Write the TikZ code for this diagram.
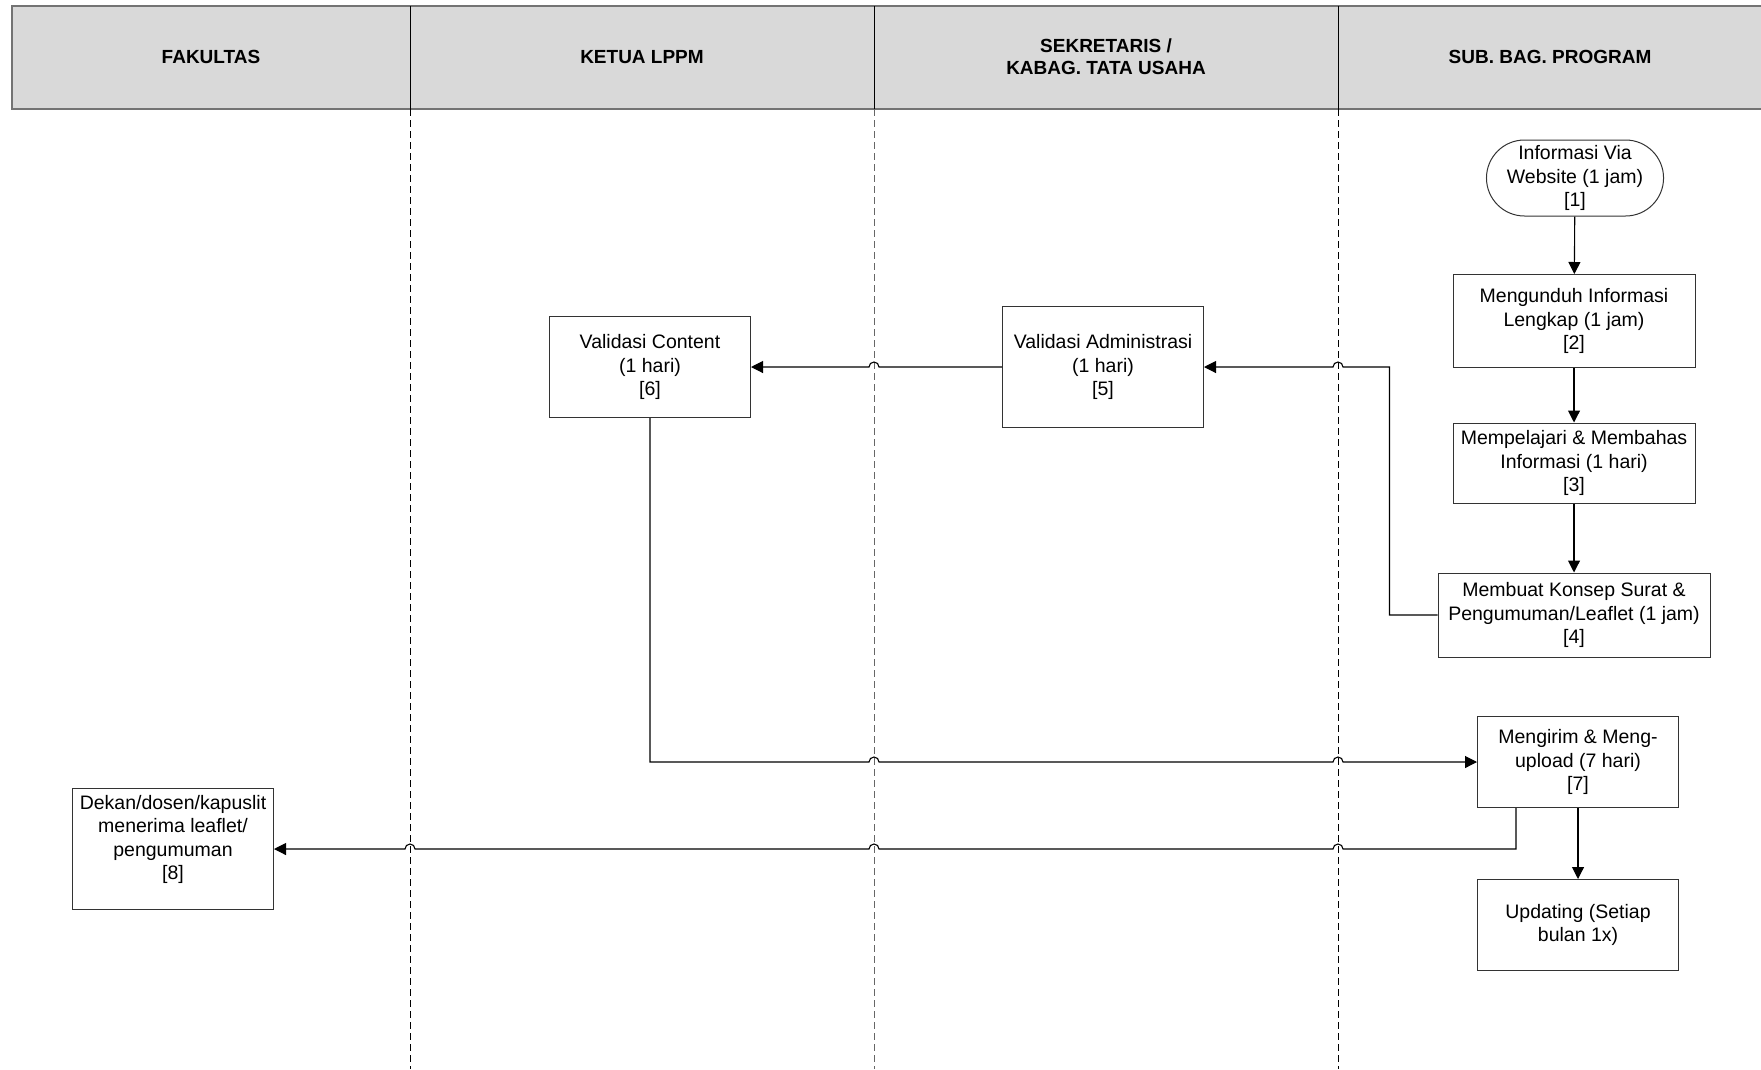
\documentclass[tikz,border=0pt]{standalone}
\usepackage{fontspec}
\setmainfont{Liberation Sans}
\usetikzlibrary{arrows.meta,shapes.misc,calc}

\begin{document}
\begin{tikzpicture}[x=1pt,y=-1pt,
		box/.style={draw=black!80,line width=1pt,align=center,inner sep=2pt,font=\fontsize{19.5}{23.5}\selectfont},
		head/.style={align=center,font=\fontsize{19}{22}\selectfont\bfseries},
		flow/.style={line width=1.1pt,-{Triangle[length=12pt,width=12pt]}},
		lane/.style={line width=0.9pt,dash pattern=on 7pt off 4pt}]
	\useasboundingbox (0,0) rectangle (1761,1069);
	% header band
	\fill[gray!30] (12,6) rectangle (1761,109);
	\draw[black!55,line width=2.5pt] (1761,6) -- (12,6) -- (12,109) -- (1761,109);
	\foreach \x/\c [count=\i] in {410/black,874/black!60,1338/black} {
			\draw[line width=0.8pt] (\x,6) -- (\x,109);
			\draw[lane,\c] (\x,109) -- (\x,1069);
			\coordinate (d\i) at (\x,109);
		}
	\node[head] (h1) at (211,57) {FAKULTAS};
	\node[head] (h2) at (642,57) {KETUA LPPM};
	\node[head] (h3) at (1106,57) {SEKRETARIS /\\ KABAG. TATA USAHA};
	\node[head] (h4) at (1550,57) {SUB. BAG. PROGRAM};

	% steps
	\node[box,rounded rectangle,minimum width=167pt,minimum height=76pt] (s1) at (1575,178) {Informasi Via\\Website (1 jam)\\{[1]}};
	\node[box,minimum width=242pt,minimum height=93pt] (s2) at (1574,321) {Mengunduh Informasi\\Lengkap (1 jam)\\{[2]}};
	\node[box,minimum width=242pt,minimum height=80pt] (s3) at (1574,463) {Mempelajari \& Membahas\\Informasi (1 hari)\\{[3]}};
	\node[box,minimum width=272pt,minimum height=84pt] (s4) at (1574,615) {Membuat Konsep Surat \&\\Pengumuman/Leaflet (1 jam)\\{[4]}};
	\node[box,minimum width=201pt,minimum height=121pt] (s5) at (1103,367) {Validasi Administrasi\\(1 hari)\\{[5]}};
	\node[box,minimum width=201pt,minimum height=101pt] (s6) at (650,367) {Validasi Content\\(1 hari)\\{[6]}};
	\node[box,minimum width=201pt,minimum height=91pt] (s7) at (1578,762) {Mengirim \& Meng-\\upload (7 hari)\\{[7]}};
	\node[box,minimum width=201pt,minimum height=91pt] (upd) at (1578,925) {Updating (Setiap\\bulan 1x)};
	\node[box,minimum width=201pt,minimum height=121pt] (s8) at (173,849) {Dekan/dosen/kapuslit\\menerima leaflet/\\pengumuman\\{[8]}\\\mbox{}};

	% arrows
	\draw[flow] (s1) -- (s2);
	\draw[flow] (s2) -- (s3);
	\draw[flow] (s3) -- (s4);
	\draw[flow] (s4.west) -- ++(-48,0) |- ($(s5.east -| d3)+(5,0)$)
		arc[start angle=0,end angle=180,radius=5pt] -- (s5.east);
	\draw[flow] (s5.west) -- ($(s5.west -| d2)+(5,0)$)
		arc[start angle=0,end angle=180,radius=5pt] -- (s6.east);
	\draw[flow] (s6.south) |- ($(s7.west -| d2)+(-5,0)$)
		arc[start angle=180,end angle=0,radius=5pt] -- ($(s7.west -| d3)+(-5,0)$)
		arc[start angle=180,end angle=0,radius=5pt] -- (s7.west);
	\draw[flow] ($(s7.south)+(-62,0)$) |- ($(s8.east -| d3)+(5,0)$)
		arc[start angle=0,end angle=180,radius=5pt] -- ($(s8.east -| d2)+(5,0)$)
		arc[start angle=0,end angle=180,radius=5pt] -- ($(s8.east -| d1)+(5,0)$)
		arc[start angle=0,end angle=180,radius=5pt] -- (s8.east);
	\draw[flow] (s7) -- (upd);
\end{tikzpicture}
\end{document}
